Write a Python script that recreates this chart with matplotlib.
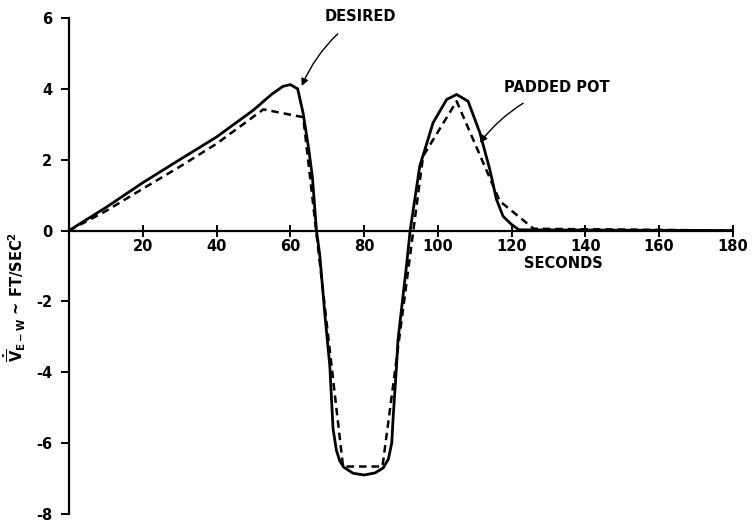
import numpy as np
import matplotlib
matplotlib.use('Agg')
from matplotlib import pyplot as plt

plt.rcParams['mathtext.default'] = 'bf'

# desired (solid) curve
desired_t = [0, 10, 20, 30, 40, 50, 55, 58, 60, 62, 63.5, 65, 66, 67.1, 68, 69.4,
             70.7, 71.6, 72.5, 73.4, 74.5, 77, 80, 83, 85.2, 86.6, 87.5, 87.9, 88.8,
             89.2, 91.5, 92.5, 95.1, 96.5, 98.7, 102.4, 105.1, 108.2, 111.4, 114.1,
             115.9, 117.7, 120, 122, 180]
desired_v = [0, 0.65, 1.35, 2.0, 2.64, 3.4, 3.85, 4.07, 4.12, 4.0, 3.3, 2.3, 1.5, 0.0,
             -0.7, -2.4, -3.8, -5.6, -6.2, -6.5, -6.68, -6.85, -6.9, -6.84, -6.7, -6.45,
             -6.0, -5.25, -3.83, -3.08, -1.0, 0.0, 1.82, 2.29, 3.04, 3.7, 3.84, 3.65,
             2.76, 1.72, 0.88, 0.4, 0.17, 0.02, 0.0]

# padded pot (dashed) curve
padded_t = [0, 10, 20, 30, 40, 52.7, 63.5, 74.3, 85.0, 96.0, 105.1, 116.8, 126.0, 180]
padded_v = [0, 0.55, 1.18, 1.8, 2.45, 3.42, 3.2, -6.66, -6.66, 2.1, 3.65, 0.83, 0.05, 0.0]

x_ticks = [20, 40, 60, 80, 100, 120, 140, 160, 180]
y_ticks = [6, 4, 2, 0, -2, -4, -6, -8]

fig = plt.figure(figsize=(7.54, 5.29), dpi=100)
ax = fig.add_axes([0.0915, 0.0284, 0.8805, 0.9376])

ax.plot(desired_t, desired_v, color='black', lw=2.0, solid_joinstyle='round')
ax.plot(padded_t, padded_v, color='black', lw=1.8, linestyle=(0, (3, 2)))

ax.set_xlim(0, 180)
ax.set_ylim(-8, 6)

# spines like the old hand drawn axes
for side in ['top', 'right']:
    ax.spines[side].set_visible(False)
ax.spines['bottom'].set_position(('data', 0))
ax.spines['left'].set_linewidth(1.6)
ax.spines['bottom'].set_linewidth(1.6)

ax.set_xticks(x_ticks)
ax.set_xticklabels([str(t) for t in x_ticks], fontsize=10.5, fontweight='bold')
ax.set_yticks(y_ticks)
ax.set_yticklabels([str(t) for t in y_ticks], fontsize=10.5, fontweight='bold')
ax.tick_params(axis='x', direction='inout', length=8, width=1.4, pad=2)
ax.tick_params(axis='y', direction='out', length=6, width=1.4, pad=6)

ax.text(134, -0.93, 'SECONDS', ha='center', va='center', fontsize=10.5, fontweight='bold')

ax.set_ylabel(r'$\dot{\overline{V}}_{E-W}$ ~ FT/SEC$^2$', fontsize=10.5, fontweight='bold')
ax.yaxis.set_label_coords(-0.062, 0.4375)

ax.annotate('DESIRED', xy=(63.1, 4.08), xytext=(78.9, 6.05),
            ha='center', va='center', fontsize=10.5, fontweight='bold',
            arrowprops=dict(arrowstyle='-|>', color='black', lw=1.0,
                            shrinkA=8, shrinkB=0, connectionstyle='arc3,rad=0.15'))
ax.annotate('PADDED POT', xy=(111.4, 2.48), xytext=(132.2, 4.04),
            ha='center', va='center', fontsize=10.5, fontweight='bold',
            arrowprops=dict(arrowstyle='-|>', color='black', lw=1.0,
                            shrinkA=8, shrinkB=0, connectionstyle='arc3,rad=0.15'))

plt.savefig('out.png', dpi=100)
